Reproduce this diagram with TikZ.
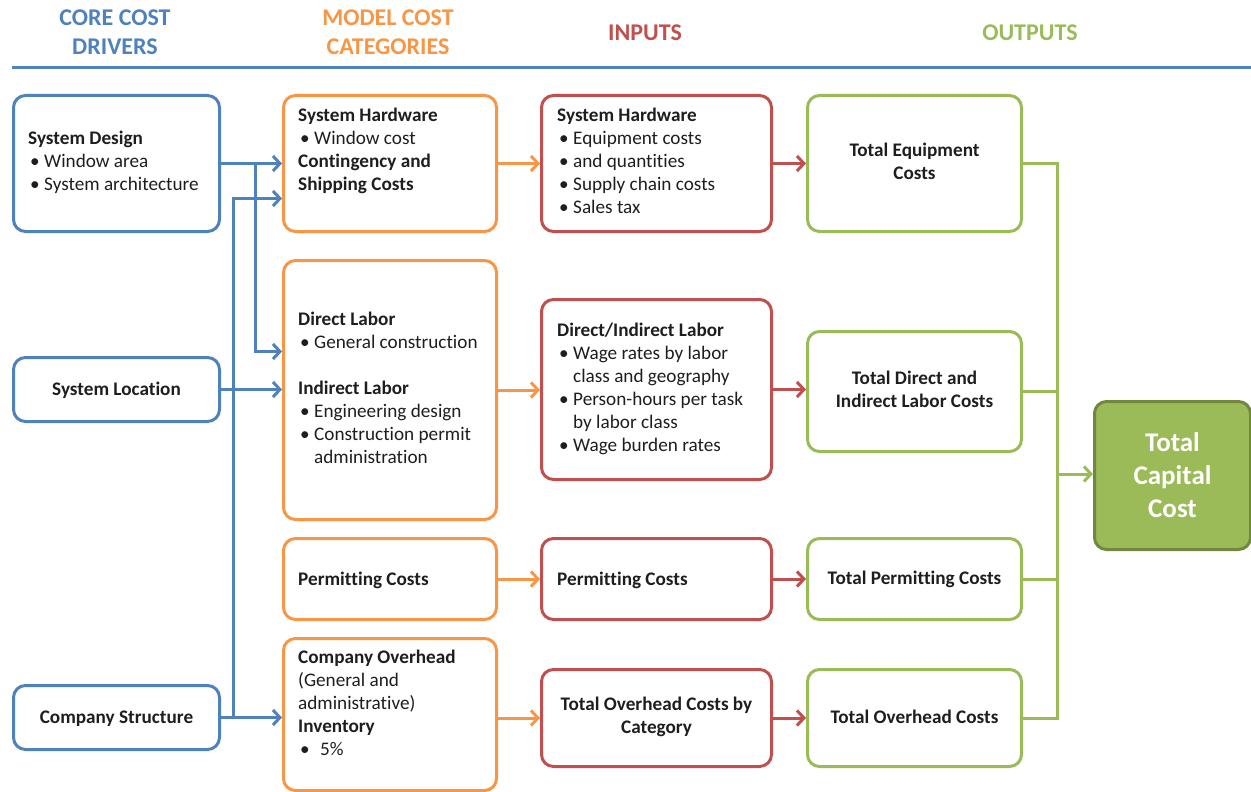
\documentclass[tikz,border=0pt]{standalone}
\usepackage{fontspec}
\setmainfont[Ligatures={NoCommon}]{Carlito}
\usetikzlibrary{arrows.meta}
\definecolor{cblue}{HTML}{4F81BD}
\definecolor{corange}{HTML}{F79646}
\definecolor{cred}{HTML}{C0504D}
\definecolor{cgreen}{HTML}{9BBB59}
\definecolor{cgreendark}{HTML}{71893F}
\definecolor{ctext}{HTML}{1E1E1E}
\newcommand\bu{\hspace*{2pt}\makebox[14pt][l]{•}}
\newcommand\ind{\hspace*{16pt}}
\begin{document}
\begin{tikzpicture}[x=1pt,y=-1pt,
  box/.style={draw, line width=3pt, rounded corners=12pt, anchor=north west, inner sep=0pt},
  bbox/.style={box, draw=cblue},
  obox/.style={box, draw=corange},
  rbox/.style={box, draw=cred},
  gbox/.style={box, draw=cgreen},
  basetxt/.style={font=\fontsize{19.2}{23}\selectfont, text=ctext, inner sep=0pt,
    execute at begin node=\strut, execute at end node=\strut},
  txt/.style={basetxt, align=left, anchor=west, yshift=-3pt},
  ctxt/.style={basetxt, align=center, anchor=center, yshift=-1pt, font=\fontsize{19.2}{23}\selectfont\bfseries},
  hdr/.style={font=\fontsize{24}{29}\selectfont\bfseries, align=center, inner sep=0pt},
  conn/.style={line width=3pt, -{Straight Barb[length=7pt,width=15pt]}},
  line/.style={line width=3pt},
]
\useasboundingbox (0,0) rectangle (1251,792);

% headers
\node[hdr, text=cblue] (h1) at (115,32) {CORE COST\\DRIVERS};
\node[hdr, text=corange] (h2) at (388,32) {MODEL COST\\CATEGORIES};
\node[hdr, text=cred] (h3) at (645,33) {INPUTS};
\node[hdr, text=cgreen] (h4) at (1030,33) {OUTPUTS};
\draw[cblue, line width=3pt] (12,68) -- (1251,68);

% core cost drivers
\node[bbox, minimum width=206pt, minimum height=136pt] (sd) at (12,94) {};
\node[bbox, minimum width=206pt, minimum height=64pt] (sl) at (12,356) {};
\node[bbox, minimum width=206pt, minimum height=64pt] (cs) at (12,684) {};
\node[txt] (sdt) at (28,161.5) {\textbf{System Design}\\\bu Window area\\\bu System architecture};
\node[ctxt] (slt) at (sl) {System Location};
\node[ctxt] (cst) at (cs) {Company Structure};

% model cost categories
\node[obox, minimum width=213pt, minimum height=136pt] (o1) at (282,94) {};
\node[obox, minimum width=213pt, minimum height=259pt] (o2) at (282,259) {};
\node[obox, minimum width=213pt, minimum height=81pt] (o3) at (282,537) {};
\node[obox, minimum width=213pt, minimum height=152pt] (o4) at (282,637) {};
\node[txt] (o1t) at (298,149.5) {\textbf{System Hardware}\\\bu Window cost\\\textbf{Contingency and}\\\textbf{Shipping Costs}};
\node[txt] (o2t) at (298,388) {\textbf{Direct Labor}\\\bu General construction\\[23pt]\textbf{Indirect Labor}\\\bu Engineering design\\\bu Construction permit\\\ind administration};
\node[txt] (o3t) at (298,577.5) {\textbf{Permitting Costs}};
\node[txt] (o4t) at (298,703) {\textbf{Company Overhead}\\(General and\\administrative)\\\textbf{Inventory}\\\bu\hspace*{6pt}5\%};

% inputs
\node[rbox, minimum width=230pt, minimum height=136pt] (r1) at (540,94) {};
\node[rbox, minimum width=230pt, minimum height=180pt] (r2) at (540,298) {};
\node[rbox, minimum width=230pt, minimum height=81pt] (r3) at (540,537) {};
\node[rbox, minimum width=230pt, minimum height=97pt] (r4) at (540,668) {};
\node[txt] (r1t) at (557,161) {\textbf{System Hardware}\\\bu Equipment costs\\\bu and quantities\\\bu Supply chain costs\\\bu Sales tax};
\node[txt] (r2t) at (557,388) {\textbf{Direct/Indirect Labor}\\\bu Wage rates by labor\\\ind class and geography\\\bu Person-hours per task\\\ind by labor class\\\bu Wage burden rates};
\node[txt] (r3t) at (557,577.5) {\textbf{Permitting Costs}};
\node[ctxt] (r4t) at (r4) {Total Overhead Costs by\\Category};

% outputs
\node[gbox, minimum width=214pt, minimum height=136pt] (g1) at (806,94) {};
\node[gbox, minimum width=214pt, minimum height=120pt] (g2) at (806,330) {};
\node[gbox, minimum width=214pt, minimum height=81pt] (g3) at (806,537) {};
\node[gbox, minimum width=214pt, minimum height=97pt] (g4) at (806,668) {};
\node[ctxt] (g1t) at (g1) {Total Equipment\\Costs};
\node[ctxt] (g2t) at (g2) {Total Direct and\\Indirect Labor Costs};
\node[ctxt] (g3t) at (g3) {Total Permitting Costs};
\node[ctxt] (g4t) at (g4) {Total Overhead Costs};

% total capital cost
\node[box, draw=cgreendark, fill=cgreen, minimum width=156pt, minimum height=148pt] (tc) at (1093,400) {};
\node[font=\fontsize{27}{33}\selectfont\bfseries, text=white, align=center, inner sep=0pt] (tct) at (tc) {Total\\Capital\\Cost};

% blue connectors
\coordinate (j1) at (255,162);
\coordinate (j2) at (233,716);
\draw[cblue, conn] (sd.east) -- (sd.east -| o1.west);
\draw[cblue, conn] (j1) |- ([yshift=38.5pt]o2.west);
\draw[cblue, conn] (sl.east) -- (sl.east -| o2.west);
\draw[cblue, conn] (cs.east) -- (cs.east -| o4.west);
\draw[cblue, conn] (j2) |- ([yshift=-35pt]o1.west);

% orange connectors
\draw[corange, conn] (o1.east) -- (r1.west);
\draw[corange, conn] (o2.east) -- (o2.east -| r2.west);
\draw[corange, conn] (o3.east) -- (r3.west);
\draw[corange, conn] (r4.west -| o4.east) -- (r4.west);

% red connectors
\draw[cred, conn] (r1.east) -- (g1.west);
\draw[cred, conn] (r2.east) -- (r2.east -| g2.west);
\draw[cred, conn] (r3.east) -- (g3.west);
\draw[cred, conn] (r4.east) -- (g4.west);

% green bus
\coordinate (bus) at (1057,474);
\draw[cgreen, line] (g1.east) -- (g1.east -| bus) -- (g4.east -| bus) -- (g4.east);
\draw[cgreen, line] (g2.east) -- (g2.east -| bus);
\draw[cgreen, line] (g3.east) -- (g3.east -| bus);
\draw[cgreen, conn] (bus) -- (bus -| tc.west);
\end{tikzpicture}
\end{document}
